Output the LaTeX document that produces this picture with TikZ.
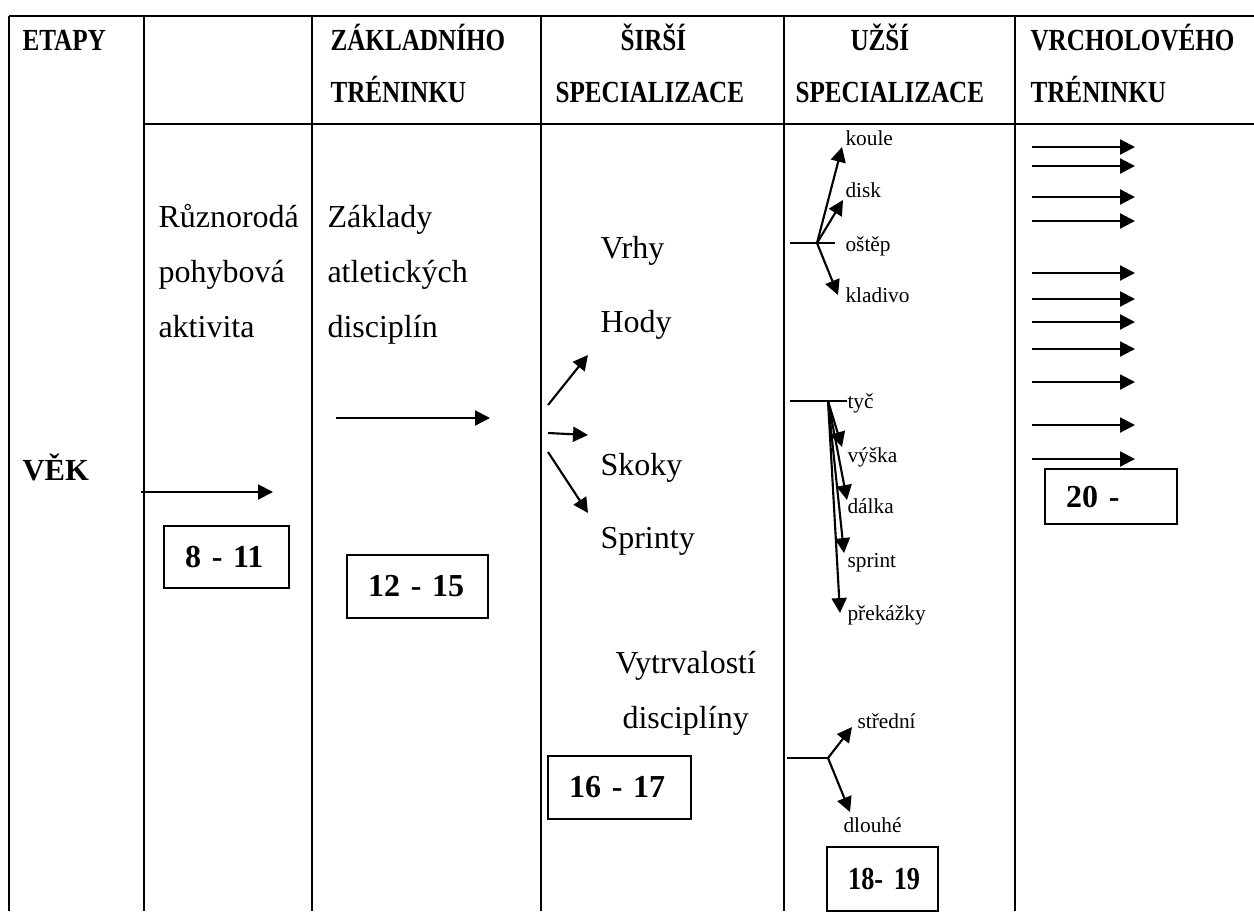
\documentclass[tikz,border=0pt]{standalone}
\usepackage{fontspec}
\setmainfont{Liberation Serif}
\newfontfamily\headfont[FakeStretch=0.82]{Liberation Serif}
\usetikzlibrary{arrows.meta}

\tikzset{
  gridline/.style={line width=1pt},
  arr/.style={line width=0.8pt, -{Triangle[length=5.6pt,width=5.6pt]}},
  plain/.style={line width=0.8pt},
  headtext/.style={font=\headfont\bfseries\fontsize{11.5}{13}\selectfont, anchor=base west, inner sep=0pt},
  rowtext/.style={font=\bfseries\fontsize{11.5}{13}\selectfont, anchor=base west, inner sep=0pt},
  bodytext/.style={font=\fontsize{12}{14}\selectfont, anchor=base west, inner sep=0pt},
  smalltext/.style={font=\fontsize{8}{9}\selectfont, anchor=base west, inner sep=0pt},
  agebox/.style={draw, line width=0.8pt, anchor=north west, inner xsep=7.9pt, inner ysep=0pt,
    align=left, font=\bfseries\fontsize{12}{14}\selectfont},
  narrowage/.style={font=\headfont\bfseries\fontsize{12}{14}\selectfont},
}

\begin{document}
\begin{tikzpicture}[x=0.375pt, y=-0.375pt]
  \useasboundingbox (0,0) rectangle (1254,911);

  % table rules
  \draw[gridline] (9,16) -- (1254,16);
  \draw[gridline] (144,124) -- (1254,124);
  \foreach \x in {9,144,312,541,784,1015}
    \draw[gridline] (\x,16) -- (\x,911);

  % header row
  \node[headtext] (hEtapy) at (22,50) {ETAPY};
  \node[headtext] (hZak1) at (330,50) {ZÁKLADNÍHO};
  \node[headtext] (hZak2) at (330,102) {TRÉNINKU};
  \node[headtext] (hSir1) at (620,50) {ŠIRŠÍ};
  \node[headtext] (hSir2) at (555,102) {SPECIALIZACE};
  \node[headtext] (hUz1) at (850,50) {UŽŠÍ};
  \node[headtext] (hUz2) at (795,102) {SPECIALIZACE};
  \node[headtext] (hVr1) at (1030,50) {VRCHOLOVÉHO};
  \node[headtext] (hVr2) at (1030,102) {TRÉNINKU};

  \node[rowtext] (vek) at (22,480) {VĚK};

  % column 1
  \node[bodytext] (c1a) at (158,227) {Různorodá};
  \node[bodytext] (c1b) at (158,282) {pohybová};
  \node[bodytext] (c1c) at (158,337) {aktivita};
  \coordinate (c1s) at (141,492);
  \coordinate (c1e) at (273,492);
  \draw[arr] (c1s) -- (c1e);
  \node[agebox, text width=31.1pt, minimum height=23.25pt] (age1) at (163,525) {\mbox{8 - 11}};

  % column 2
  \node[bodytext] (c2a) at (327,227) {Základy};
  \node[bodytext] (c2b) at (327,282) {atletických};
  \node[bodytext] (c2c) at (327,337) {disciplín};
  \coordinate (c2s) at (336,418);
  \coordinate (c2e) at (490,418);
  \draw[arr] (c2s) -- (c2e);
  \node[agebox, text width=37.1pt, minimum height=23.6pt] (age2) at (346,554) {\mbox{12 - 15}};

  % column 3
  \node[bodytext] (vrhy) at (600,258) {Vrhy};
  \node[bodytext] (hody) at (600,332) {Hody};
  \node[bodytext] (skoky) at (600,475) {Skoky};
  \node[bodytext] (sprinty) at (600,548) {Sprinty};
  \node[bodytext] (vytr1) at (615,673) {Vytrvalostí};
  \node[bodytext] (vytr2) at (622,728) {disciplíny};
  \coordinate (c3us) at (548,405);
  \coordinate (c3ue) at (588,355);
  \coordinate (c3ms) at (548,433);
  \coordinate (c3me) at (588,435);
  \coordinate (c3ds) at (548,452);
  \coordinate (c3de) at (588,513);
  \draw[arr] (c3us) -- (c3ue);
  \draw[arr] (c3ms) -- (c3me);
  \draw[arr] (c3ds) -- (c3de);
  \node[agebox, text width=37.8pt, minimum height=23.6pt] (age3) at (547,755) {\mbox{16 - 17}};

  % column 4: throws
  \coordinate (thL) at (790,243);
  \coordinate (thR) at (835,243);
  \coordinate (thJ) at (817,243);
  \draw[plain] (thL) -- (thR);
  \node[smalltext] (koule) at (845,145) {koule};
  \node[smalltext] (disk) at (845,197) {disk};
  \node[smalltext] (ostep) at (845,251) {oštěp};
  \node[smalltext] (kladivo) at (845,302) {kladivo};
  \coordinate (tKoule) at (842,147);
  \coordinate (tDisk) at (843,200);
  \coordinate (tKladivo) at (838,295);
  \draw[arr] (thJ) -- (tKoule);
  \draw[arr] (thJ) -- (tDisk);
  \draw[arr] (thJ) -- (tKladivo);

  % column 4: jumps and sprints
  \coordinate (jpL) at (790,401);
  \coordinate (jpR) at (847,401);
  \coordinate (jpJ) at (828,401);
  \draw[plain] (jpL) -- (jpR);
  \node[smalltext] (tyc) at (847,408) {tyč};
  \node[smalltext] (vyska) at (847,462) {výška};
  \node[smalltext] (dalka) at (847,513) {dálka};
  \node[smalltext] (sprint) at (847,567) {sprint};
  \node[smalltext] (prekazky) at (847,620) {překážky};
  \coordinate (tVyska) at (842,447);
  \coordinate (tDalka) at (847,500);
  \coordinate (tSprint) at (844,553);
  \coordinate (tPrek) at (840,613);
  \draw[arr] (jpJ) -- (tVyska);
  \draw[arr] (jpJ) -- (tDalka);
  \draw[arr] (jpJ) -- (tSprint);
  \draw[arr] (jpJ) -- (tPrek);

  % column 4: endurance
  \coordinate (enL) at (787,758);
  \coordinate (enJ) at (828,758);
  \draw[plain] (enL) -- (enJ);
  \node[smalltext] (stredni) at (857,728) {střední};
  \node[smalltext] (dlouhe) at (843,832) {dlouhé};
  \coordinate (tStredni) at (852,727);
  \coordinate (tDlouhe) at (850,812);
  \draw[arr] (enJ) -- (tStredni);
  \draw[arr] (enJ) -- (tDlouhe);
  \node[agebox, narrowage, text width=25.8pt, minimum height=24pt] (age4) at (826,846) {\mbox{18- 19}};

  % column 5
  \foreach \y [count=\i] in {147,166,197,221,273,299,322,349,382,425,459} {
    \coordinate (rs\i) at (1032,\y);
    \coordinate (re\i) at (1135,\y);
    \draw[arr] (rs\i) -- (re\i);
  }
  \node[agebox, text width=33.7pt, minimum height=20.6pt] (age5) at (1044,468) {\mbox{20 -}};
\end{tikzpicture}
\end{document}
